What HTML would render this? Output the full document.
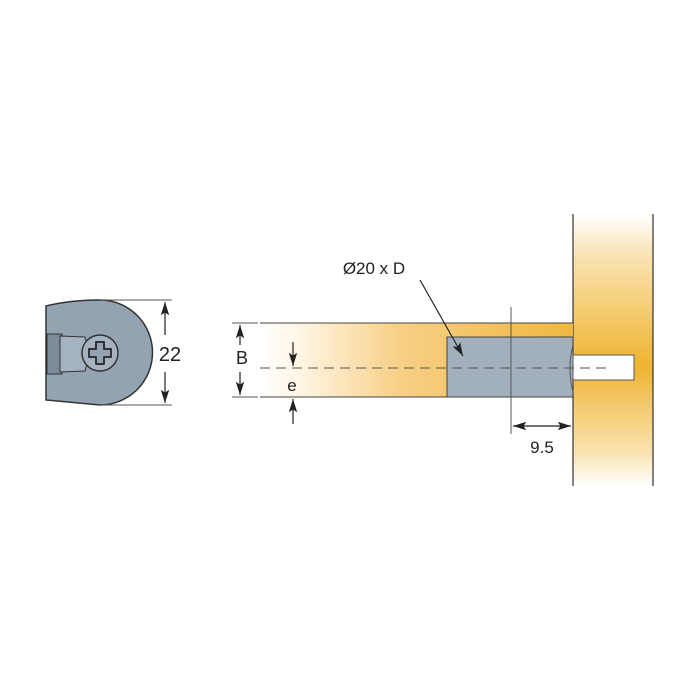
<!DOCTYPE html>
<html><head><style>body{margin:0;background:#fff}svg{display:block}</style></head><body>
<svg width="700" height="700" viewBox="0 0 700 700" xmlns="http://www.w3.org/2000/svg" font-family="Liberation Sans, sans-serif">
<defs>
<linearGradient id="bd" x1="0" x2="1" y1="0" y2="0">
<stop offset="0" stop-color="#fff"/><stop offset="0.12" stop-color="#fff6e6"/><stop offset="0.45" stop-color="#f7cf85"/><stop offset="1" stop-color="#f0b840"/></linearGradient>
<linearGradient id="pn" x1="0" x2="0" y1="0" y2="1">
<stop offset="0" stop-color="#fff"/><stop offset="0.15" stop-color="#fae3b3"/><stop offset="0.56" stop-color="#efb431"/><stop offset="0.88" stop-color="#fae3b3"/><stop offset="1" stop-color="#fff"/></linearGradient>
<marker id="a" viewBox="0 0 10 10" refX="10" refY="5" markerWidth="11" markerHeight="11" orient="auto-start-reverse"><path d="M0,1.8 L10,5 L0,8.2 L2,5 z" fill="#222"/></marker>
</defs>
<rect x="573" y="214" width="80" height="272" fill="url(#pn)"/>
<line x1="573" y1="214" x2="573" y2="486" stroke="#333" stroke-width="1.2"/>
<line x1="653" y1="214" x2="653" y2="486" stroke="#333" stroke-width="1.2"/>
<rect x="260" y="323" width="313" height="74" fill="url(#bd)"/>
<line x1="260" y1="323" x2="573" y2="323" stroke="#444"/>
<line x1="260" y1="397" x2="573" y2="397" stroke="#444"/>
<rect x="447" y="337" width="126" height="60" fill="#a2b0bd" stroke="#444"/>
<path d="M573,345 Q567,368 573,392" fill="none" stroke="#555"/>
<rect x="573" y="355" width="61" height="25" fill="#fff" stroke="#555"/>
<line x1="260" y1="368" x2="610" y2="368" stroke="#555" stroke-dasharray="10,6"/>
<line x1="511" y1="307" x2="511" y2="434" stroke="#555"/>
<line x1="513" y1="426" x2="571" y2="426" stroke="#222" stroke-width="1.2" marker-start="url(#a)" marker-end="url(#a)"/>
<text x="542" y="453" font-size="17" text-anchor="middle" fill="#222">9.5</text>
<line x1="420" y1="280" x2="463" y2="356" stroke="#222" stroke-width="1.2" marker-end="url(#a)"/>
<text x="374" y="274" font-size="17" text-anchor="middle" fill="#222">Ø20 x D</text>
<line x1="232" y1="323" x2="258" y2="323" stroke="#555"/>
<line x1="232" y1="397" x2="258" y2="397" stroke="#555"/>
<line x1="240" y1="345" x2="240" y2="325" stroke="#222" stroke-width="1.2" marker-end="url(#a)"/>
<line x1="240" y1="372" x2="240" y2="395" stroke="#222" stroke-width="1.2" marker-end="url(#a)"/>
<text x="242" y="364" font-size="18" text-anchor="middle" fill="#222">B</text>
<line x1="293" y1="342" x2="293" y2="366" stroke="#222" stroke-width="1.2" marker-end="url(#a)"/>
<line x1="293" y1="424" x2="293" y2="399" stroke="#222" stroke-width="1.2" marker-end="url(#a)"/>
<text x="292" y="391" font-size="17" text-anchor="middle" fill="#222">e</text>
<path d="M46,306 Q70,300 100,300 A52,52 0 0 1 100,405 L46,400 Z" fill="#94a3b2" stroke="#333" stroke-width="1.5"/>
<rect x="47" y="334" width="15" height="40" fill="#7d8c9b" stroke="#333"/>
<path d="M60,336 L85,337 Q90,355 85,371 L60,372 Z" fill="#a5b3c0" stroke="#333"/>
<circle cx="100" cy="353" r="18" fill="#a5b3c0" stroke="#333" stroke-width="1.5"/>
<path d="M96,342 h8 v7 h7 v8 h-7 v7 h-8 v-7 h-7 v-8 h7 z" fill="#94a3b2" stroke="#333" stroke-width="2" stroke-linejoin="round"/>
<line x1="100" y1="300" x2="172" y2="300" stroke="#555"/>
<line x1="100" y1="405" x2="172" y2="405" stroke="#555"/>
<line x1="165" y1="335" x2="165" y2="302" stroke="#222" stroke-width="1.2" marker-end="url(#a)"/>
<line x1="165" y1="372" x2="165" y2="403" stroke="#222" stroke-width="1.2" marker-end="url(#a)"/>
<text x="170" y="361" font-size="20" text-anchor="middle" fill="#222">22</text>
</svg>
</body></html>
